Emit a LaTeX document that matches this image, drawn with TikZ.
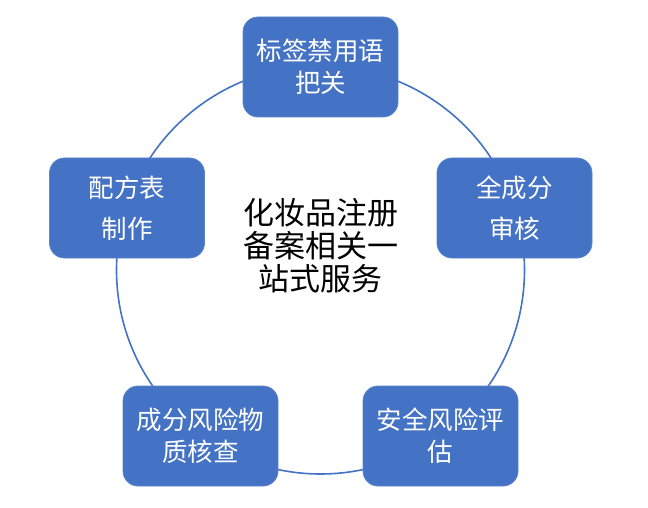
\documentclass[tikz,border=0pt]{standalone}
\usepackage{fontspec}
\newfontfamily\cjk{Noto Sans CJK SC}
\definecolor{boxblue}{HTML}{4472C4}
\definecolor{boxedge}{HTML}{5B84CC}
\tikzset{
  stepbox/.style={draw=boxedge, line width=0.8pt, fill=boxblue, rounded corners=15pt,
    minimum width=155pt, minimum height=100pt, inner sep=0pt, align=center,
    text=white, font=\cjk\fontsize{25.5}{32}\selectfont},
  widegap/.style={font=\cjk\fontsize{25.5}{41}\selectfont},
  ring/.style={draw=boxblue, line width=1.6pt},
  hubtext/.style={align=center, text=black, font=\cjk\fontsize{31}{33}\selectfont}
}
\begin{document}
\begin{tikzpicture}[x=1pt,y=-1pt]
\useasboundingbox (0,0) rectangle (648,508);
\coordinate (hub) at (320.5,270);
\draw[ring] (hub) circle[radius=204];
\node[stepbox] (top) at (320.5,67) {标签禁用语\\把关};
\node[stepbox] (right) at (514.5,208) [widegap] {全成分\\审核};
\node[stepbox] (br) at (440.5,436) {安全风险评\\估};
\node[stepbox] (bl) at (200.5,436) {成分风险物\\质核查};
\node[stepbox] (left) at (127,208) [widegap] {配方表\\制作};
\node[hubtext] (title) at (320.5,246) {化妆品注册\\备案相关一\\站式服务};
\end{tikzpicture}
\end{document}
